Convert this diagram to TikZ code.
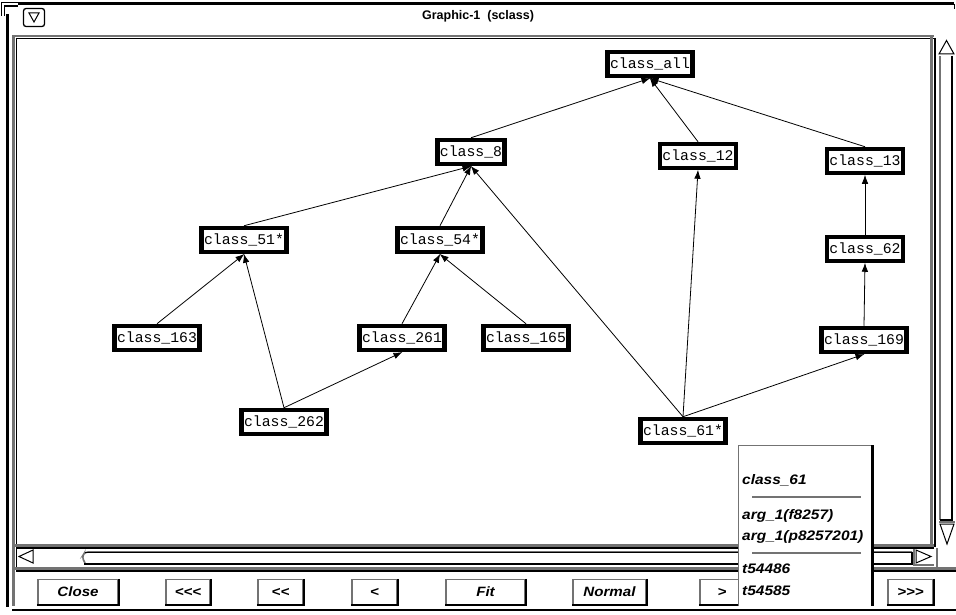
\documentclass[tikz,border=0pt]{standalone}
\usepackage{fontspec}
\newfontfamily\monofont{Liberation Mono}
\newfontfamily\uifont{Liberation Sans}
\newfontfamily\uiwide[FakeStretch=1.12]{Liberation Sans}
\usetikzlibrary{arrows.meta}
\colorlet{stip}{black!55}
\tikzset{
  cls/.style={draw, line width=4.5pt, fill=white, font=\monofont\fontsize{14.8}{15}\selectfont,
    inner xsep=2.3pt, inner ysep=0pt, minimum height=24pt},
  edge/.style={-{Latex[length=9pt,width=6.5pt]}, line width=0.8pt, shorten >=-0.5pt},
  btn/.style={draw=stip, line width=1.4pt, minimum height=25pt, inner sep=0pt,
    font=\uiwide\bfseries\itshape\fontsize{13.5}{14}\selectfont},
  btnshade/.style={line width=2pt},
  band/.style={stip, line width=2.6pt},
  rim/.style={black, line width=1.6pt},
  poptext/.style={anchor=west, inner sep=0pt, font=\uiwide\bfseries\itshape\fontsize{13.8}{14}\selectfont},
}
\begin{document}
\begin{tikzpicture}[x=1pt,y=-1pt]
\useasboundingbox (0,0) rectangle (956,615);
\fill[white] (0,0) rectangle (956,615);
% ---------- window frame ----------
\draw[line width=3pt] (18,4) -- (954,4);
\draw[line width=1pt] (954,4) -- (954,9);
\draw[line width=3pt] (7.5,14) -- (7.5,607);
\draw[line width=1.2pt] (1.5,16) -- (1.5,2.5) -- (18,2.5);
\draw[line width=1.2pt] (4.5,16) -- (4.5,6) -- (18,6);
\draw[line width=1.6pt] (12,610) -- (956,610);
% menu button
\draw[line width=1.3pt, rounded corners=2.5pt] (23.5,8.5) rectangle (44.5,26.5);
\draw[line width=1pt] (29,13) -- (39,13) -- (34,22) -- cycle;
\node[font=\uifont\bfseries\fontsize{12.5}{13}\selectfont, inner sep=0pt] (title) at (478,16) {Graphic-1\ \ (sclass)};
% ---------- canvas borders ----------
\draw[band] (12,36) -- (934,36);
\draw[rim] (16,38.7) -- (934,38.7);
\draw[band] (13.5,36) -- (13.5,606);
\draw[rim] (16.3,38) -- (16.3,571);
\draw[band] (931.5,36) -- (931.5,546);
\draw[rim] (935,38) -- (935,547);
% vertical scrollbar
\draw[line width=1pt] (939,54) -- (954,54) -- (946.5,40.5) -- cycle;
\draw[stip, line width=2pt] (940,56) -- (940,520);
\draw[line width=1.8pt] (952,56) -- (952,520) -- (940,520);
\draw[stip, line width=1.6pt] (939,522) -- (955,522);
\draw[line width=1pt] (940,524) -- (954,524) -- (947,544) -- cycle;
% horizontal scrollbar
\draw[band] (12,545.5) -- (934,545.5);
\draw[rim] (16,548) -- (934,548);
\draw[line width=1pt] (33,550) -- (33,563) -- (19,556.5) -- cycle;
\draw[stip, line width=1.6pt, rounded corners=3pt] (912,552) -- (85,552) -- (82,557) -- (85,563);
\draw[line width=1pt] (85,552) -- (912,552);
\draw[line width=2.2pt] (84,564) -- (912,564) -- (912,552);
\draw[stip, line width=1.4pt] (914,549) -- (914,565) -- (934,565);
\draw[line width=1pt] (916,550) -- (916,563) -- (931,556.5) -- cycle;
\draw[band] (12,568.5) -- (956,568.5);
\draw[rim] (16,571) -- (956,571);
\draw[band] (937,548) -- (937,567);
% ---------- graph nodes ----------
\node[cls] (call) at (650,64)  {class\_all};
\node[cls] (c8)   at (471,152) {class\_8};
\node[cls] (c12)  at (698,156) {class\_12};
\node[cls] (c13)  at (865,161) {class\_13};
\node[cls] (c51)  at (244,240) {class\_51*};
\node[cls] (c54)  at (440,240) {class\_54*};
\node[cls] (c62)  at (865,249) {class\_62};
\node[cls] (c163) at (157,338) {class\_163};
\node[cls] (c261) at (402,338) {class\_261};
\node[cls] (c165) at (526,338) {class\_165};
\node[cls] (c169) at (864,340) {class\_169};
\node[cls] (c262) at (284,422) {class\_262};
\node[cls] (c61)  at (683,431) {class\_61*};
% ---------- edges ----------
\draw[edge] (c8.north)   -- (call.south);
\draw[edge] (c12.north)  -- (call.south);
\draw[edge] (c13.north)  -- (call.south);
\draw[edge] (c51.north)  -- (c8.south);
\draw[edge] (c54.north)  -- (c8.south);
\draw[edge] (c61.north)  -- (c8.south);
\draw[edge] (c61.north)  -- (c12.south);
\draw[edge] (c61.north)  -- (c169.south);
\draw[edge] (c62.north)  -- (c13.south);
\draw[edge] (c169.north) -- (c62.south);
\draw[edge] (c163.north) -- (c51.south);
\draw[edge] (c262.north) -- (c51.south);
\draw[edge] (c262.north) -- (c261.south);
\draw[edge] (c261.north) -- (c54.south);
\draw[edge] (c165.north) -- (c54.south);
% ---------- buttons ----------
\node[btn, minimum width=80pt] (bclose) at (78,592)  {Close};
\node[btn, minimum width=44pt] (b3l)    at (188,592) {<{}<{}<};
\node[btn, minimum width=45pt] (b2l)    at (280.5,592) {<{}<};
\node[btn, minimum width=45pt] (b1l)    at (374.5,592) {<};
\node[btn, minimum width=79pt] (bfit)   at (485.5,592) {Fit};
\node[btn, minimum width=73pt] (bnorm)  at (609.5,592) {Normal};
\node[btn, minimum width=44pt] (b1r)    at (722,592) {>};
\node[btn, minimum width=45pt] (b3r)    at (910.5,592) {>{}>{}>};
\foreach \b in {bclose,b3l,b2l,b1l,bfit,bnorm,b1r,b3r}
  \draw[btnshade] (\b.north east) -- (\b.south east) -- (\b.south west);
% ---------- popup ----------
\fill[white] (738,445) rectangle (873,606);
\draw[stip, line width=1.6pt] (738.5,606) -- (738.5,445.5) -- (872,445.5);
\draw[line width=2.6pt] (872.5,445) -- (872.5,606);
\node[poptext] (pcls) at (742,480) {class\_61};
\draw[stip, line width=1.6pt] (752,497) -- (861,497);
\node[poptext] (parg1) at (742,516) {arg\_1(f8257)};
\node[poptext] (parg2) at (742,537) {arg\_1(p8257201)};
\draw[stip, line width=1.6pt] (752,553) -- (861,553);
\node[poptext] (pt1) at (742,569) {t54486};
\node[poptext] (pt2) at (742,591) {t54585};
\end{tikzpicture}
\end{document}
